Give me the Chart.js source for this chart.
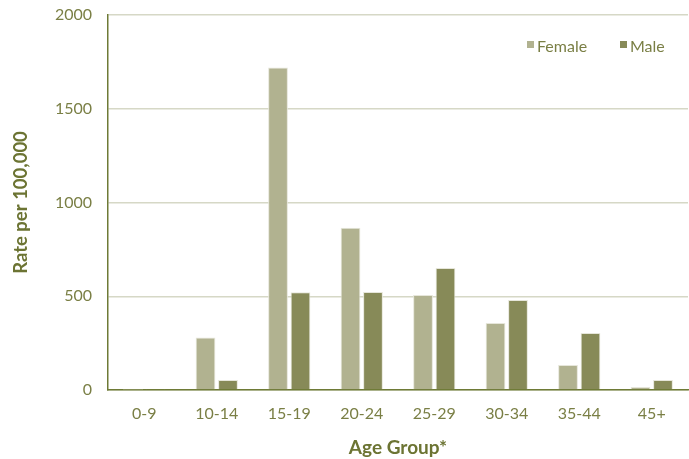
<!DOCTYPE html>
<html>
<head>
<meta charset="utf-8">
<script src="https://cdn.jsdelivr.net/npm/chart.js@4"></script>
<style>
  html, body { margin: 0; padding: 0; background: #fff; }
  #wrap { width: 689px; height: 459px; }
</style>
</head>
<body>
<div id="wrap"><canvas id="rateChart" width="689" height="459"></canvas></div>
<script>
// age groups and rates per 100,000
const ageGroups = ['0-9', '10-14', '15-19', '20-24', '25-29', '30-34', '35-44', '45+'];
const femaleRates = [1, 280, 1720, 865, 507, 357, 133, 16];
const maleRates = [6, 53, 521, 523, 651, 480, 304, 53];
const yTicks = [0, 500, 1000, 1500, 2000];

const femaleColor = '#b1b290';
const maleColor = '#878a58';
const textColor = '#7a7f45';
const titleColor = '#6c7433';

// legend drawn inside the plot, top right
const innerLegend = {
  id: 'innerLegend',
  afterDraw(chart) {
    const ctx = chart.ctx;
    const xs = [527, 620];
    ctx.save();
    ctx.font = '16px Lato';
    ctx.textBaseline = 'middle';
    chart.data.datasets.forEach((ds, i) => {
      ctx.fillStyle = ds.backgroundColor;
      ctx.fillRect(xs[i], 41, 7, 7);
      ctx.fillStyle = textColor;
      ctx.fillText(ds.label, xs[i] + 10, 47);
    });
    ctx.restore();
  }
};

const ctx = document.getElementById('rateChart').getContext('2d');
new Chart(ctx, {
  type: 'bar',
  data: {
    labels: ageGroups,
    datasets: [
      {
        label: 'Female',
        data: femaleRates,
        backgroundColor: femaleColor,
        borderColor: '#e6e6da',
        borderWidth: 1,
        categoryPercentage: 0.62,
        barPercentage: 0.88
      },
      {
        label: 'Male',
        data: maleRates,
        backgroundColor: maleColor,
        borderColor: '#e6e6da',
        borderWidth: 1,
        categoryPercentage: 0.62,
        barPercentage: 0.88
      }
    ]
  },
  options: {
    responsive: false,
    animation: false,
    layout: { padding: { left: 10, right: 1, top: 15, bottom: 0 } },
    plugins: {
      legend: { display: false },
      tooltip: { enabled: false }
    },
    scales: {
      x: {
        grid: { display: false, drawTicks: false },
        border: { color: '#6e7a36', width: 1.5 },
        ticks: { color: textColor, font: { family: 'Lato', size: 16 }, padding: 14 },
        title: {
          display: true,
          text: 'Age Group*',
          color: titleColor,
          font: { family: 'Lato', size: 19, weight: 'bold' },
          padding: { top: 11, bottom: 0 }
        },
        afterFit(scale) {
          scale.height = 69;
          scale.paddingLeft = 0;
          scale.paddingRight = 0;
        }
      },
      y: {
        min: 0,
        max: 2000,
        afterBuildTicks(scale) { scale.ticks = yTicks.map(v => ({ value: v })); },
        grid: { color: '#d6d8c6', lineWidth: 1.5, drawTicks: false },
        border: { color: '#6e7a36', width: 1.5 },
        ticks: {
          color: textColor,
          font: { family: 'Lato', size: 16 },
          padding: 16,
          callback: v => String(v)
        },
        title: {
          display: true,
          text: 'Rate per 100,000',
          color: titleColor,
          font: { family: 'Lato', size: 18.5, weight: 'bold' },
          padding: { top: 0, bottom: 0 }
        },
        afterFit(scale) {
          scale.width = 98;
          scale.paddingTop = 0;
          scale.paddingBottom = 0;
        }
      }
    }
  },
  plugins: [innerLegend]
});
</script>
</body>
</html>
